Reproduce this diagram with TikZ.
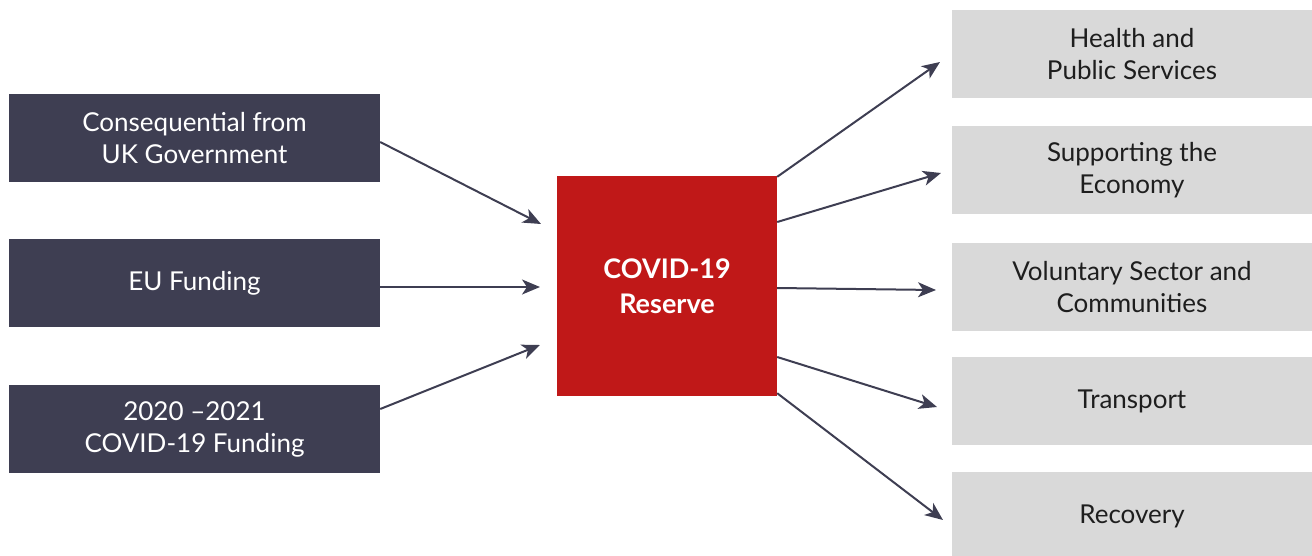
\documentclass[tikz,border=0pt]{standalone}
\usepackage{fontspec}
\setmainfont{Lato}
\usetikzlibrary{arrows.meta,calc}
\definecolor{navy}{HTML}{3E3E52}
\definecolor{covred}{HTML}{C01818}
\definecolor{lgray}{HTML}{D9D9D9}
\definecolor{ink}{HTML}{1E1E1E}
\begin{document}
\begin{tikzpicture}[x=1pt,y=-1pt,
  srcbox/.style={fill=navy,text=white,minimum width=371pt,minimum height=88pt,inner sep=0pt,align=center,font=\fontsize{26}{32}\selectfont},
  dstbox/.style={fill=lgray,text=ink,minimum width=360pt,minimum height=88pt,inner sep=0pt,align=center,font=\fontsize{26}{32}\selectfont},
  resbox/.style={fill=covred,text=white,minimum width=220pt,minimum height=220pt,inner sep=0pt,align=center,font=\fontsize{27}{35}\selectfont\bfseries},
  arr/.style={draw=navy,line width=2pt,-{Stealth[length=18pt,width=15pt,inset=5pt]}}]
\useasboundingbox (0,0) rectangle (1312,555);
\node[srcbox] (s1) at (194.5,138) {Consequential from\\UK Government};
\node[srcbox] (s2) at (194.5,283) {EU Funding};
\node[srcbox] (s3) at (194.5,429) {2020 –2021\\COVID-19 Funding};
\node[resbox] (r) at (667,286) {COVID-19\\Reserve};
\node[dstbox] (d1) at (1132,54) {Health and\\Public Services};
\node[dstbox] (d2) at (1132,170) {Supporting the\\Economy};
\node[dstbox] (d3) at (1132,287) {Voluntary Sector and\\Communities};
\node[dstbox] (d4) at (1132,401) {Transport};
\node[dstbox] (d5) at (1132,516) {Recovery};
\coordinate (i1) at (541,224);
\coordinate (i2) at (540,287);
\coordinate (i3) at (540,345);
\coordinate (o1) at (940,62);
\coordinate (o2) at (941,173);
\coordinate (o3) at (936,290);
\coordinate (o4) at (937,407);
\coordinate (o5) at (943,520);
\draw[arr] ($(s1.east)+(0,4)$) -- (i1);
\draw[arr] (s2.east) ++(0,4) -- (i2);
\draw[arr] ($(s3.east)+(0,-20)$) -- (i3);
\draw[arr] ($(r.north east)+(0,1)$) -- (o1);
\draw[arr] ($(r.east)+(0,-64)$) -- (o2);
\draw[arr] ($(r.east)+(0,2)$) -- (o3);
\draw[arr] ($(r.east)+(0,71)$) -- (o4);
\draw[arr] ($(r.south east)+(0,-3)$) -- (o5);
\end{tikzpicture}
\end{document}
